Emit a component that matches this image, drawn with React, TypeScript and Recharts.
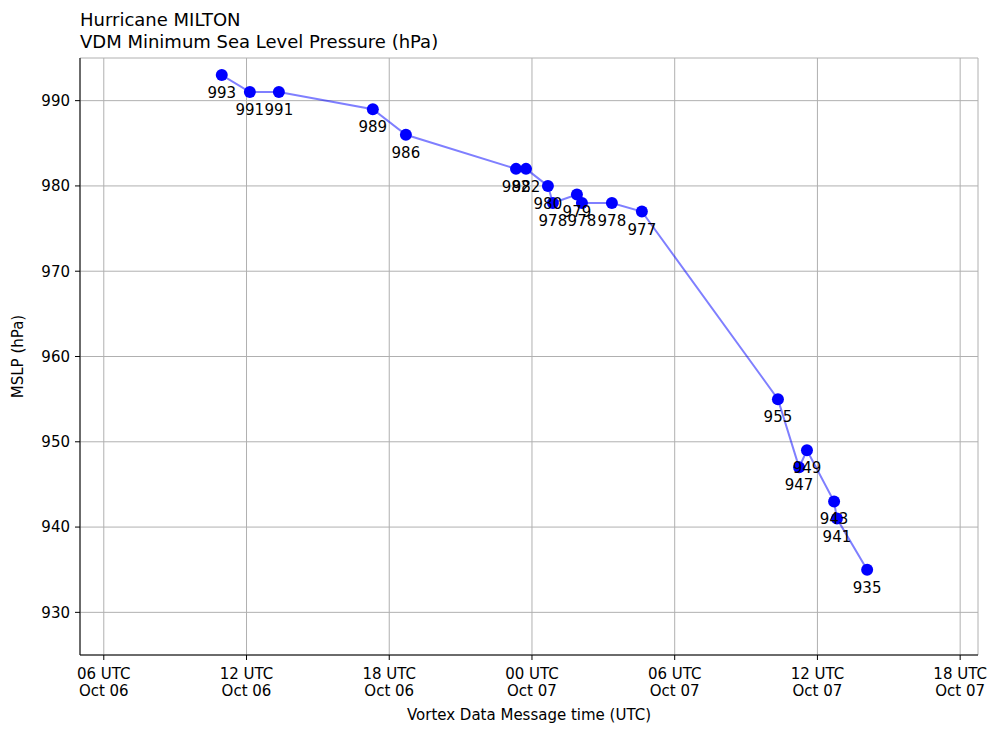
import * as React from 'react';
import {
  CartesianGrid,
  LabelList,
  Line,
  LineChart,
  XAxis,
  YAxis,
} from 'recharts';

// hours since 00 UTC Oct 06
const times = [
  10.96, 12.14, 13.36, 17.31, 18.7, 23.33, 23.75, 24.67, 24.88, 25.89,
  26.1, 27.36, 28.62, 34.34, 35.23, 35.56, 36.7, 36.82, 38.09,
];
const pressures = [
  993, 991, 991, 989, 986, 982, 982, 980, 978, 979,
  978, 978, 977, 955, 947, 949, 943, 941, 935,
];
const xTicks = [6, 12, 18, 24, 30, 36, 42];
const xTickLabels = [
  ['06 UTC', 'Oct 06'],
  ['12 UTC', 'Oct 06'],
  ['18 UTC', 'Oct 06'],
  ['00 UTC', 'Oct 07'],
  ['06 UTC', 'Oct 07'],
  ['12 UTC', 'Oct 07'],
  ['18 UTC', 'Oct 07'],
];
const yTicks = [930, 940, 950, 960, 970, 980, 990];

const data = times.map((t, i) => ({ t, p: pressures[i] }));

const FONT = '"DejaVu Sans", sans-serif';

const XTick = (props: any) => {
  const { x, y, payload } = props;
  const idx = xTicks.indexOf(payload.value);
  const [l1, l2] = xTickLabels[idx] || ['', ''];
  return (
    <g>
      <text x={x} y={y + 17} textAnchor="middle" fontSize={15} fontFamily={FONT} fill="#000">
        {l1}
      </text>
      <text x={x} y={y + 34} textAnchor="middle" fontSize={15} fontFamily={FONT} fill="#000">
        {l2}
      </text>
    </g>
  );
};

const PointLabel = (props: any) => {
  const { x, y, value } = props;
  return (
    <text x={x} y={y + 23} textAnchor="middle" fontSize={15} fontFamily={FONT} fill="#000">
      {value}
    </text>
  );
};

export default function App() {
  return (
    <div style={{ position: 'absolute', left: 0, top: 0, width: 1000, height: 735, background: '#fff', fontFamily: FONT }}>
      <div style={{ position: 'absolute', left: 80, top: 9, fontSize: 18, lineHeight: '22px', color: '#000' }}>
        Hurricane MILTON
        <br />
        VDM Minimum Sea Level Pressure (hPa)
      </div>
      <LineChart width={1000} height={735} data={data} margin={{ top: 58, right: 22, left: 0, bottom: 0 }}>
        <CartesianGrid stroke="#b0b0b0" strokeWidth={1} />
        <XAxis
          dataKey="t"
          type="number"
          domain={[5, 42.75]}
          ticks={xTicks}
          height={80}
          tick={<XTick />}
          tickSize={5}
          stroke="#000"
          tickLine={{ stroke: '#000' }}
          axisLine={{ stroke: '#000' }}
          allowDataOverflow
          label={{ value: 'Vortex Data Message time (UTC)', position: 'insideBottom', offset: 15, fontSize: 15, fill: '#000', fontFamily: FONT }}
        />
        <XAxis xAxisId="top" orientation="top" dataKey="t" type="number" domain={[5, 42.75]} height={0} tick={false} tickLine={false} axisLine={{ stroke: '#000' }} />
        <YAxis
          type="number"
          domain={[925, 995]}
          ticks={yTicks}
          width={80}
          tickSize={5}
          tickMargin={5}
          allowDataOverflow
          tick={{ fontSize: 15, fill: '#000', fontFamily: FONT }}
          tickLine={{ stroke: '#000' }}
          axisLine={{ stroke: '#000' }}
          label={{ value: 'MSLP (hPa)', angle: -90, position: 'insideLeft', offset: 18, fontSize: 15, fill: '#000', fontFamily: FONT, style: { textAnchor: 'middle' } }}
        />
        <YAxis yAxisId="right" orientation="right" domain={[925, 995]} width={0} tick={false} tickLine={false} axisLine={{ stroke: '#000' }} />
        <Line
          dataKey="p"
          stroke="#0000ff"
          strokeOpacity={0.5}
          strokeWidth={2}
          dot={{ r: 6, fill: '#0000ff', stroke: 'none', fillOpacity: 1 }}
          activeDot={false}
          isAnimationActive={false}
        >
          <LabelList dataKey="p" content={<PointLabel />} />
        </Line>
      </LineChart>
    </div>
  );
}
